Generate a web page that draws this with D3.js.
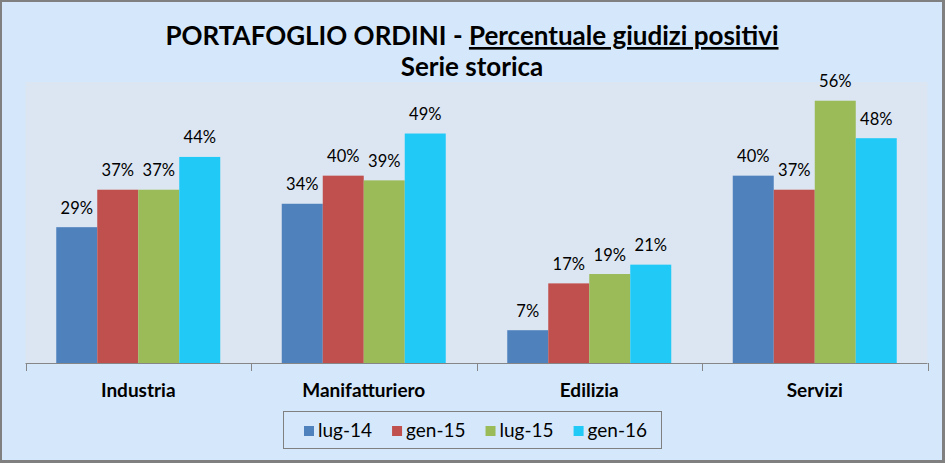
<!DOCTYPE html>
<html lang="it">
<head>
<meta charset="UTF-8">
<title>Portafoglio ordini</title>
<style>
  body { margin: 0; }
  svg text { font-family: Lato, "Open Sans", sans-serif; fill: #000; }
</style>
</head>
<body>
<svg id="svg" width="945" height="463"></svg>

<script src="https://d3js.org/d3.v7.min.js"></script>
<script>
    // data
    const categories = ['Industria', 'Manifatturiero', 'Edilizia', 'Servizi']
    const series = ['lug-14', 'gen-15', 'lug-15', 'gen-16']
    const lug14 = [0.29, 0.34, 0.07, 0.40]
    const gen15 = [0.37, 0.40, 0.17, 0.37]
    const lug15 = [0.37, 0.39, 0.19, 0.56]
    const gen16 = [0.44, 0.49, 0.21, 0.48]
    const values = [lug14, gen15, lug15, gen16]
    const colors = ['#4F81BD', '#C0504D', '#9BBB59', '#21C9F7']

    const svg = d3.select('#svg')

    // frame + background
    svg.append('rect').attr('width', 945).attr('height', 463).attr('fill', '#808080')
    svg.append('rect').attr('x', 2).attr('y', 2).attr('width', 940).attr('height', 458).attr('fill', '#D5E8FB')

    const plot = { left: 25.5, right: 927.5, top: 82, bottom: 363 }
    svg.append('rect')
        .attr('x', plot.left).attr('y', plot.top)
        .attr('width', plot.right - plot.left).attr('height', plot.bottom - plot.top)
        .attr('fill', '#DCE6F2')

    const xScale = d3.scaleBand()
        .domain(categories)
        .range([plot.left, plot.right])

    const bw = xScale.bandwidth()
    const barW = bw / 5.5   // gap width 150%
    const x1 = d3.scaleBand()
        .domain(series)
        .range([barW * 0.75, barW * 4.75])

    const yScale = d3.scaleLinear()
        .domain([0, 0.6])
        .range([plot.bottom, plot.top])

    const colorScale = d3.scaleOrdinal().domain(series).range(colors)

    const rows = []
    series.forEach((s, i) => {
        categories.forEach((c, j) => rows.push({ s: s, c: c, v: values[i][j] }))
    })

    svg.append('g').selectAll('rect')
        .data(rows)
        .enter()
        .append('rect')
        .attr('x', d => xScale(d.c) + x1(d.s))
        .attr('y', d => yScale(d.v))
        .attr('width', x1.bandwidth())
        .attr('height', d => yScale(0) - yScale(d.v))
        .attr('fill', d => colorScale(d.s))

    svg.append('g').selectAll('text')
        .data(rows)
        .enter()
        .append('text')
        .attr('x', d => xScale(d.c) + x1(d.s) + x1.bandwidth() / 2)
        .attr('y', d => yScale(d.v) - 13.5)
        .attr('text-anchor', 'middle')
        .style('font-size', '16.5px')
        .text(d => d3.format('.0%')(d.v))

    // category axis
    const axis = svg.append('g')
    axis.append('line')
        .attr('x1', plot.left).attr('x2', plot.right)
        .attr('y1', plot.bottom + 0.5).attr('y2', plot.bottom + 0.5)
        .attr('stroke', '#868686')
    const bounds = categories.map(c => xScale(c)).concat([plot.right])
    axis.selectAll('.tick')
        .data(bounds)
        .enter()
        .append('line')
        .attr('x1', d => Math.round(d) + 0.5).attr('x2', d => Math.round(d) + 0.5)
        .attr('y1', plot.bottom).attr('y2', plot.bottom + 8)
        .attr('stroke', '#868686')
    axis.selectAll('.lab')
        .data(categories)
        .enter()
        .append('text')
        .attr('x', d => xScale(d) + bw / 2)
        .attr('y', 397)
        .attr('text-anchor', 'middle')
        .style('font-size', '19px')
        .style('font-weight', 'bold')
        .text(d => d)

    // title
    const t1 = svg.append('text')
        .attr('x', 472).attr('y', 45)
        .attr('text-anchor', 'middle')
        .style('font-size', '26px')
        .style('font-weight', 'bold')
    t1.append('tspan').text('PORTAFOGLIO ORDINI - ')
    t1.append('tspan').style('text-decoration', 'underline').text('Percentuale giudizi positivi')
    svg.append('text')
        .attr('x', 472).attr('y', 76)
        .attr('text-anchor', 'middle')
        .style('font-size', '26px')
        .style('font-weight', 'bold')
        .text('Serie storica')

    // legend
    const legend = svg.append('g')
    legend.append('rect')
        .attr('x', 283.5).attr('y', 411.5)
        .attr('width', 378).attr('height', 37)
        .attr('fill', 'none')
        .attr('stroke', '#808080')
    let lx = 304
    series.forEach(s => {
        legend.append('rect')
            .attr('x', lx).attr('y', 426)
            .attr('width', 10).attr('height', 10)
            .attr('fill', colorScale(s))
        const t = legend.append('text')
            .attr('x', lx + 14).attr('y', 437)
            .style('font-size', '19px')
            .text(s)
        lx += 14 + t.node().getComputedTextLength() + 20
    })
</script>
</body>
</html>
